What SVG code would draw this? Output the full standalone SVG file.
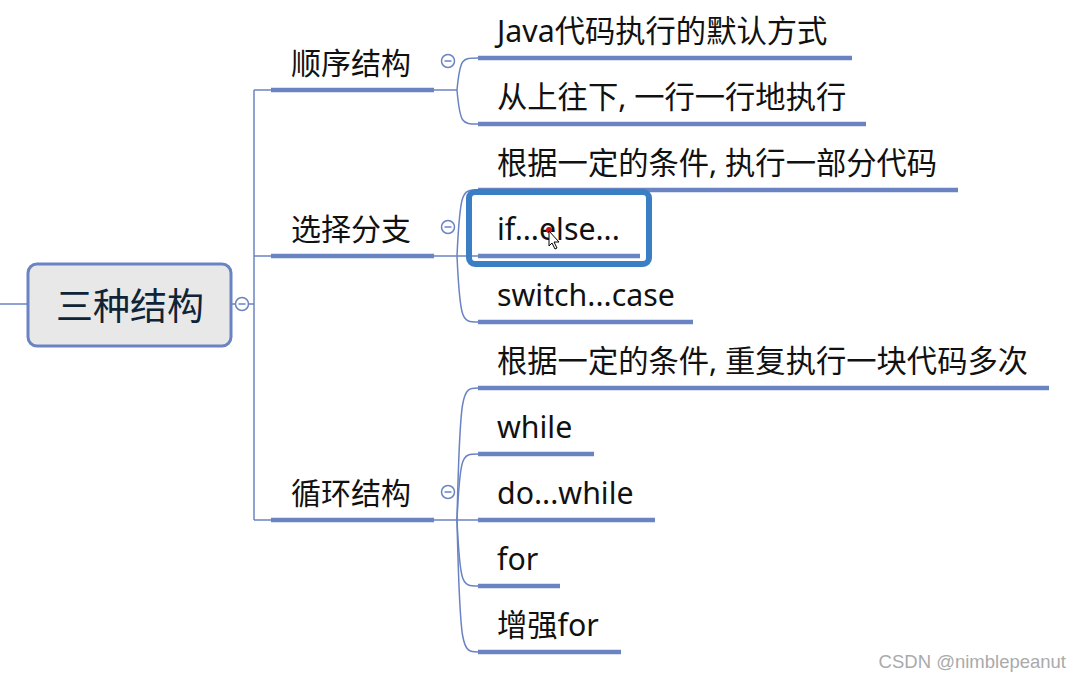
<svg xmlns="http://www.w3.org/2000/svg" width="1082" height="681" viewBox="0 0 1082 681">
<style>
.thin{fill:none;stroke:#6a83c2;stroke-width:1.5}
.thick{fill:none;stroke:#6a83c2;stroke-width:4.5}
.t{font-family:"Noto Sans","Noto Sans CJK SC",sans-serif;font-size:30.3px;fill:#111}
.b{font-family:"Noto Sans","Noto Sans CJK SC",sans-serif;font-size:30px;fill:#111}
.col circle{fill:#fff;stroke:#6a83c2;stroke-width:1.5}
.col line{stroke:#6a83c2;stroke-width:1.5}
</style>
<rect width="1082" height="681" fill="#fff"/>
<g id="connectors">
<line class="thin" x1="0" y1="304" x2="28" y2="304"/>
<line class="thin" x1="231" y1="304" x2="254" y2="304"/>
<line class="thin" x1="254" y1="90" x2="254" y2="520"/>
<line class="thin" x1="254" y1="90" x2="271" y2="90"/>
<line class="thin" x1="254" y1="256" x2="271" y2="256"/>
<line class="thin" x1="254" y1="520" x2="271" y2="520"/>
<line class="thin" x1="434" y1="90" x2="457" y2="90"/>
<line class="thin" x1="434" y1="256" x2="478" y2="256"/>
<line class="thin" x1="434" y1="520" x2="478" y2="520"/>
<path class="thin" d="M457,90 C460,58 462,58 478,58"/>
<path class="thin" d="M457,90 C460,124 462,124 478,124"/>
<path class="thin" d="M457,256 C460,190 462,190 478,190"/>
<path class="thin" d="M457,256 C460,322 462,322 478,322"/>
<path class="thin" d="M457,520 C460,388 462,388 478,388"/>
<path class="thin" d="M457,520 C460,454 462,454 478,454"/>
<path class="thin" d="M457,520 C460,586 462,586 478,586"/>
<path class="thin" d="M457,520 C460,652 462,652 478,652"/>
</g>
<g id="root">
<rect x="28" y="264" width="203" height="82" rx="9" fill="#e8e8e8" stroke="#6a83c2" stroke-width="3"/>
<text x="130" y="320" text-anchor="middle" font-family="Noto Sans CJK SC,sans-serif" font-size="37" fill="#0f2436">三种结构</text>
<g class="col"><circle cx="242" cy="304" r="6.5"/><line x1="238.5" y1="304" x2="245.5" y2="304"/></g>
</g>
<g id="b1">
<line class="thick" x1="271" y1="90" x2="434" y2="90"/>
<text class="b" x="291" y="74">顺序结构</text>
<g class="col"><circle cx="448" cy="61" r="6.5"/><line x1="444.5" y1="61" x2="451.5" y2="61"/></g>
</g>
<g id="b2">
<line class="thick" x1="271" y1="256" x2="434" y2="256"/>
<text class="b" x="291" y="240">选择分支</text>
<g class="col"><circle cx="448" cy="227" r="6.5"/><line x1="444.5" y1="227" x2="451.5" y2="227"/></g>
</g>
<g id="b3">
<line class="thick" x1="271" y1="520" x2="434" y2="520"/>
<text class="b" x="291" y="504">循环结构</text>
<g class="col"><circle cx="448" cy="492" r="6.5"/><line x1="444.5" y1="492" x2="451.5" y2="492"/></g>
</g>
<g id="c1"><line class="thick" x1="478" y1="58" x2="852" y2="58"/><text class="t" x="497" y="42">Java代码执行的默认方式</text></g>
<g id="c2"><line class="thick" x1="478" y1="124" x2="866" y2="124"/><text class="t" x="497" y="108">从上往下, 一行一行地执行</text></g>
<g id="c3"><line class="thick" x1="478" y1="190" x2="958" y2="190"/><text class="t" x="497" y="174">根据一定的条件, 执行一部分代码</text></g>
<g id="c4"><line class="thick" x1="478" y1="256" x2="640" y2="256"/><text class="t" x="497" y="240">if...else...</text>
<rect x="469" y="192" width="180" height="72" rx="6" fill="none" stroke="#3a7fc4" stroke-width="6"/>
<circle cx="549" cy="230" r="3" fill="#d01010"/>
<path d="M549,231 L549,246 L552,243 L555,249 L557,248 L554,242 L559,242 Z" fill="#fff" stroke="#000" stroke-width="1"/>
</g>
<g id="c5"><line class="thick" x1="478" y1="322" x2="693" y2="322"/><text class="t" x="497" y="306">switch...case</text></g>
<g id="c6"><line class="thick" x1="478" y1="388" x2="1049" y2="388"/><text class="t" x="497" y="372">根据一定的条件, 重复执行一块代码多次</text></g>
<g id="c7"><line class="thick" x1="478" y1="454" x2="594" y2="454"/><text class="t" x="497" y="438">while</text></g>
<g id="c8"><line class="thick" x1="478" y1="520" x2="655" y2="520"/><text class="t" x="497" y="504">do...while</text></g>
<g id="c9"><line class="thick" x1="478" y1="586" x2="560" y2="586"/><text class="t" x="497" y="570">for</text></g>
<g id="c10"><line class="thick" x1="478" y1="652" x2="621" y2="652"/><text class="t" x="497" y="636">增强for</text></g>
<text x="1066" y="668" text-anchor="end" font-family="Liberation Sans,sans-serif" font-size="18.5" fill="#aaa">CSDN @nimblepeanut</text>
</svg>
